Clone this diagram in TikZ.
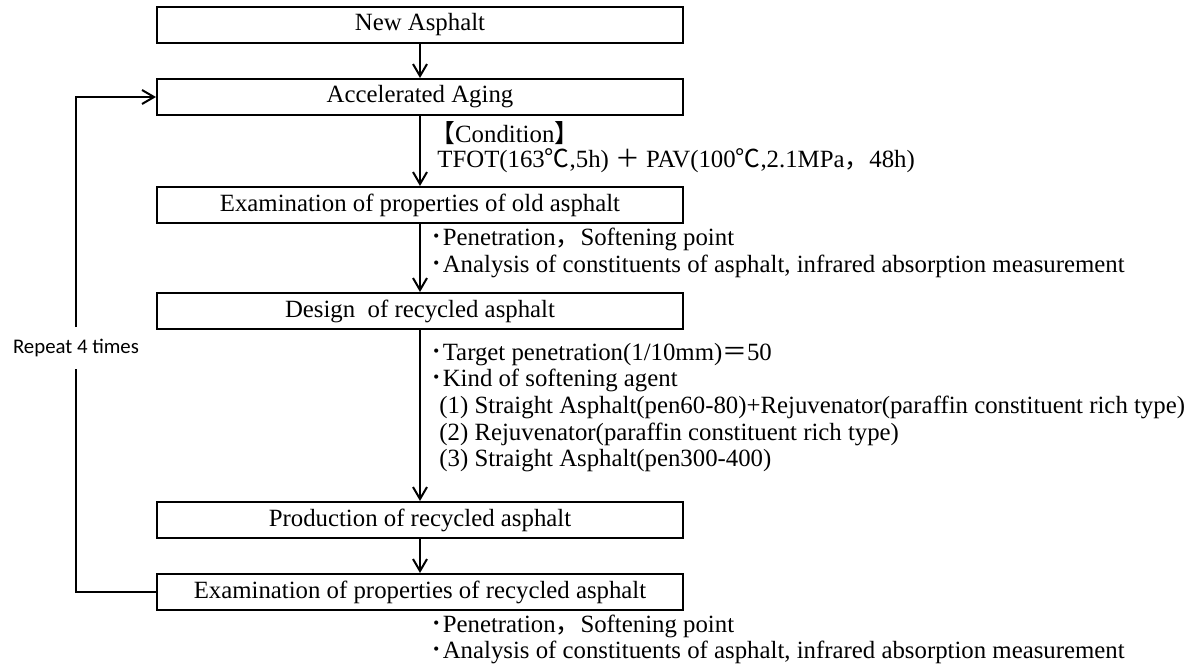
\documentclass[tikz,border=0pt]{standalone}
\usepackage{fontspec}
\setmainfont{Liberation Serif}
\newfontfamily\cjk{Noto Sans CJK JP}
\newfontfamily\calibri{Carlito}
\usetikzlibrary{arrows.meta, positioning, calc}
\newcommand{\pbul}{{\cjk ･}}

\begin{document}
\begin{tikzpicture}[
    font=\fontsize{12.4}{13.3}\selectfont,
    >={Straight Barb[length=6pt, width=7pt]},
    node distance=17pt,
    stepbox/.style={draw, line width=1pt, minimum width=263pt, minimum height=18pt, inner sep=0pt, align=center},
    note/.style={inner sep=0pt, align=left, anchor=west},
    line/.style={->, line width=1pt},
    loopline/.style={line width=1pt}
]
\useasboundingbox (0,0) rectangle (600pt,-332pt);

% ===== MAIN FLOW =====
\node[stepbox] (new) at (210pt,-12.5pt) {New Asphalt};
\node[stepbox, below=of new] (aging) {Accelerated Aging};
\node[stepbox, below=35pt of aging] (oldexam) {Examination of properties of old asphalt};
\node[stepbox, below=34pt of oldexam] (design) {Design\ \ of recycled asphalt};
\node[stepbox, below=85.5pt of design] (prod) {Production of recycled asphalt};
\node[stepbox, below=of prod] (recexam) {Examination of properties of recycled asphalt};

% ===== NOTES =====
\node[note, xshift=5pt, yshift=2pt, font=\fontsize{12.4}{12.8}\selectfont] (cond) at ($(aging.south)!0.5!(oldexam.north)$)
    {{\cjk 【}Condition{\cjk 】}\\\hspace*{3.5pt}TFOT(163{\cjk ℃},5h) {\cjk ＋} PAV(100{\cjk ℃},2.1MPa{\cjk ，}48h)};
\node[note, xshift=5pt, yshift=2.5pt] (oldprops) at ($(oldexam.south)!0.5!(design.north)$)
    {\pbul Penetration{\cjk ，}Softening point\\\pbul Analysis of constituents of asphalt, infrared absorption measurement};
\node[note, xshift=5pt, yshift=4pt] (designprops) at ($(design.south)!0.5!(prod.north)$)
    {\pbul Target penetration(1/10mm){\cjk ＝}50\\
     \pbul Kind of softening agent\\
     \hspace*{4.5pt}(1) Straight Asphalt(pen60-80)+Rejuvenator(paraffin constituent rich type)\\
     \hspace*{4.5pt}(2) Rejuvenator(paraffin constituent rich type)\\
     \hspace*{4.5pt}(3) Straight Asphalt(pen300-400)};
\node[note, below right=2pt and 5pt of recexam.south, font=\fontsize{12.4}{12.8}\selectfont] (recprops)
    {\pbul Penetration{\cjk ，}Softening point\\\pbul Analysis of constituents of asphalt, infrared absorption measurement};

% Loop label
\node[font=\calibri\fontsize{10.4}{12}\selectfont, minimum height=20.5pt, inner sep=0pt] (rep) at (38pt,-174pt) {Repeat 4 times};

% ===== CONNECTIONS =====
\draw[line] (new) -- (aging);
\draw[line] (aging) -- (oldexam);
\draw[line] (oldexam) -- (design);
\draw[line] (design) -- (prod);
\draw[line] (prod) -- (recexam);

% Repeat loop
\draw[loopline] (recexam.west) -| (rep.south);
\draw[line] (rep.north) |- (aging.west);

\end{tikzpicture}
\end{document}
